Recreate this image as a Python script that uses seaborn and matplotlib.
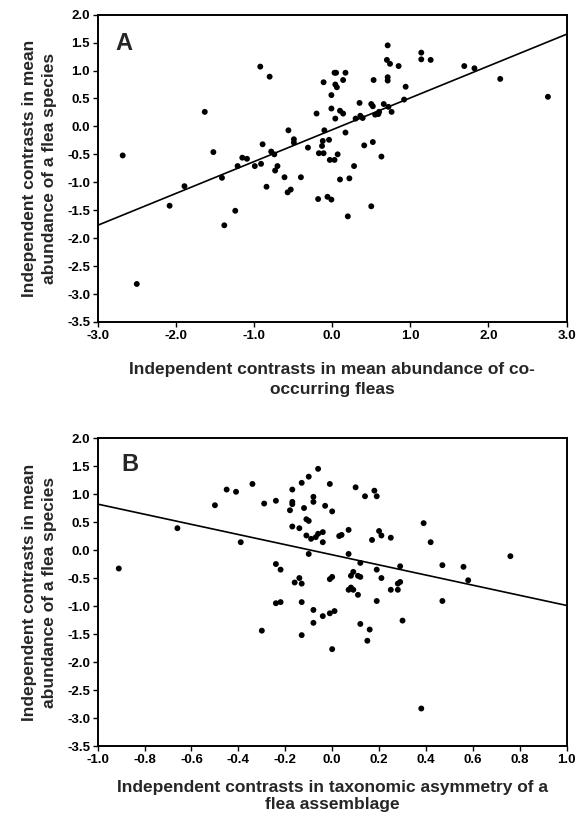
import matplotlib
matplotlib.use("Agg")
import matplotlib.pyplot as plt
import seaborn as sns
import pandas as pd

# panel A: contrasts in abundance of co-occurring fleas vs abundance of a flea species
a_x = [-2.68, -1.63, -0.92, -0.80, -1.52, -0.56, -0.49, -0.49, -0.31, -0.89,
       -0.78, -0.74, -1.15, -1.09, -1.21, -0.99, -0.91, -0.70, -0.73, -1.41,
       -1.89, -2.08, -0.84, -0.61, -0.40, -0.57, -0.53, -1.24, -1.38, -2.50,
       0.71, 1.14, 1.14, 1.26, 0.70, 0.74, 0.85, 1.69, 1.82, 2.15,
       0.03, 0.05, 0.17, -0.11, 0.14, 0.04, 0.06, -0.01, 0.53, 0.71,
       0.71, 0.94, 0.92, -0.20, -0.01, 0.10, 0.14, 0.04, 0.35, 0.50,
       0.52, 0.66, 0.30, 0.36, 0.39, 0.55, 0.60, 0.59, 0.72, 0.76,
       -0.10, -0.12, -0.13, -0.04, 0.17, -0.17, -0.11, 0.07, -0.03, 0.03,
       0.41, 0.52, 0.63, 0.28, 0.10, 0.22, -0.18, -0.06, -0.01, 0.50,
       0.20, 2.76]
a_y = [-0.52, 0.26, 1.07, 0.89, -0.46, -0.07, -0.23, -0.29, -0.38, -0.32,
       -0.45, -0.50, -0.56, -0.58, -0.71, -0.71, -0.67, -0.71, -0.79, -0.92,
       -1.07, -1.42, -1.08, -0.91, -0.91, -1.18, -1.13, -1.51, -1.77, -2.82,
       1.45, 1.32, 1.20, 1.19, 1.19, 1.12, 1.08, 1.08, 1.04, 0.85,
       0.96, 0.96, 0.96, 0.79, 0.83, 0.75, 0.70, 0.56, 0.83, 0.88,
       0.82, 0.71, 0.48, 0.23, 0.32, 0.28, 0.23, 0.14, 0.42, 0.40,
       0.36, 0.40, 0.14, 0.19, 0.15, 0.21, 0.26, 0.22, 0.35, 0.26,
       -0.07, -0.26, -0.35, -0.24, -0.11, -0.48, -0.48, -0.50, -0.60, -0.60,
       -0.34, -0.28, -0.54, -0.71, -0.95, -0.93, -1.30, -1.26, -1.31, -1.43,
       -1.61, 0.53]
a_line_x = [-3.0, 3.0]
a_line_y = [-1.77, 1.65]

# panel B: contrasts in taxonomic asymmetry vs abundance of a flea species
b_x = [-0.91, -0.66, -0.50, -0.45, -0.41, -0.34, -0.39, -0.29, -0.24, -0.17,
       -0.13, -0.10, -0.17, -0.17, -0.18, -0.12, -0.11, -0.10, -0.17, -0.14,
       -0.11, -0.10, -0.24, -0.22, -0.14, -0.16, -0.13, -0.06, -0.01, 0.10,
       0.18, 0.14, 0.19, -0.08, -0.08, -0.03, 0.00, -0.09, -0.07, -0.06,
       -0.04, -0.04, 0.03, 0.04, 0.07, 0.17, 0.20, 0.21, 0.25, 0.39,
       0.42, 0.76, 0.07, 0.12, 0.19, 0.29, 0.47, 0.56, 0.58, -0.01,
       0.00, 0.08, 0.09, 0.11, 0.12, 0.21, 0.07, 0.08, 0.09, 0.25,
       0.28, 0.28, 0.29, 0.11, -0.13, -0.08, -0.08, -0.04, -0.01, 0.01,
       -0.13, 0.00, 0.12, 0.16, 0.15, 0.19, 0.30, 0.47, 0.38, -0.24,
       -0.22, -0.30]
b_y = [-0.33, 0.39, 0.80, 1.08, 1.04, 1.18, 0.14, 0.83, 0.88, 1.08,
       1.20, 1.31, 0.86, 0.82, 0.71, 0.75, 0.55, 0.52, 0.42, 0.39,
       0.26, -0.07, -0.25, -0.35, -0.50, -0.58, -0.60, 1.45, 1.18, 1.12,
       1.06, 0.96, 0.96, 0.95, 0.86, 0.79, 0.69, 0.20, 0.23, 0.29,
       0.32, 0.14, 0.25, 0.27, 0.36, 0.18, 0.34, 0.26, 0.22, 0.48,
       0.14, -0.11, -0.07, -0.23, -0.35, -0.29, -0.27, -0.30, -0.54, -0.52,
       -0.48, -0.46, -0.39, -0.46, -0.48, -0.50, -0.71, -0.67, -0.71, -0.71,
       -0.71, -0.60, -0.57, -0.80, -0.93, -1.07, -1.30, -1.18, -1.13, -1.09,
       -1.52, -1.77, -1.32, -1.42, -1.62, -0.91, -1.26, -0.91, -2.83, -0.95,
       -0.93, -1.44]
b_line_x = [-1.0, 1.0]
b_line_y = [0.82, -0.99]

y_ticks = [2.0, 1.5, 1.0, 0.5, 0.0, -0.5, -1.0, -1.5, -2.0, -2.5, -3.0, -3.5]
a_xticks = [-3.0, -2.0, -1.0, 0.0, 1.0, 2.0, 3.0]
b_xticks = [-1.0, -0.8, -0.6, -0.4, -0.2, 0.0, 0.2, 0.4, 0.6, 0.8, 1.0]

ylabel = "Independent contrasts in mean\nabundance of a flea species"
a_xlabel = "Independent contrasts in mean abundance of co-\noccurring fleas"
b_xlabel = "Independent contrasts in taxonomic asymmetry of a\nflea assemblage"

sns.set_style("ticks")
plt.rcParams['font.family'] = ['Liberation Sans', 'DejaVu Sans']
plt.rcParams['font.weight'] = 'bold'

fig = plt.figure(figsize=(5.86, 8.18), dpi=100)
ax_a = fig.add_axes([0.1667, 0.6064, 0.8003, 0.3757])
ax_b = fig.add_axes([0.1667, 0.0880, 0.8003, 0.3765])

# axes, data, line, ticks, limits, label, letter, letter pos, xlabel y, xlabel spacing
panels = [
    (ax_a, a_x, a_y, a_line_x, a_line_y, a_xticks, (-3, 3), a_xlabel, "A", (0.038, 0.945), -0.13, 1.4),
    (ax_b, b_x, b_y, b_line_x, b_line_y, b_xticks, (-1, 1), b_xlabel, "B", (0.051, 0.95), -0.11, 1.15),
]

for ax, xs, ys, lx, ly, xticks, xlim, xlabel, letter, lpos, xlab_y, xlab_ls in panels:
    df = pd.DataFrame({'x': xs, 'y': ys})
    sns.scatterplot(data=df, x='x', y='y', ax=ax, color='black', s=18,
                    edgecolor='none', zorder=3)
    sns.lineplot(x=lx, y=ly, ax=ax, color='black', linewidth=1.2, zorder=2)
    ax.set_xlim(*xlim)
    ax.set_ylim(-3.5, 2.0)
    ax.set_xticks(xticks)
    ax.set_xticklabels([f"{t:.1f}" for t in xticks])
    ax.set_yticks(y_ticks)
    ax.set_yticklabels([f"{t:.1f}" for t in y_ticks])
    ax.tick_params(direction='out', length=3.5, width=1.0, labelsize=9.5,
                   pad=2, colors='black')
    for sp in ax.spines.values():
        sp.set_linewidth(1.4)
        sp.set_color('black')
    ax.set_xlabel(xlabel, fontsize=12.5, fontweight='bold', linespacing=xlab_ls)
    ax.xaxis.set_label_coords(0.5, xlab_y)
    ax.set_ylabel(ylabel, fontsize=12.5, fontweight='bold', linespacing=1.4)
    ax.yaxis.set_label_coords(-0.087, 0.5)
    ax.text(lpos[0], lpos[1], letter, transform=ax.transAxes, fontsize=17,
            fontweight='bold', ha='left', va='top')

fig.savefig("out.png", dpi=100)
